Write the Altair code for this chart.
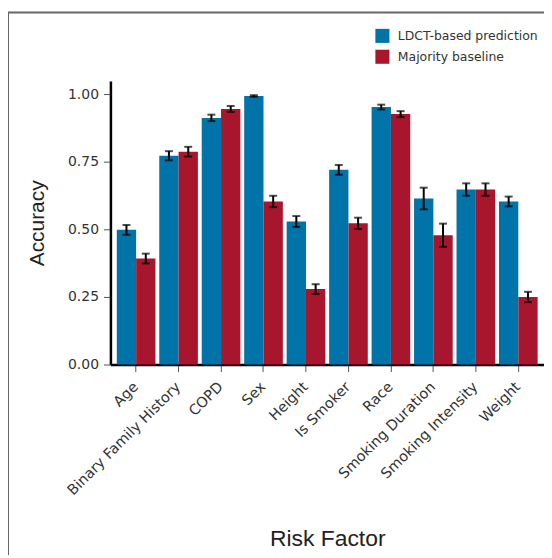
import altair as alt
import pandas as pd

factors = ["Age", "Binary Family History", "COPD", "Sex", "Height", "Is Smoker",
           "Race", "Smoking Duration", "Smoking Intensity", "Weight"]
ldct_acc = [0.498, 0.772, 0.912, 0.993, 0.529, 0.720, 0.952, 0.614, 0.647, 0.603]
ldct_err = [0.018, 0.017, 0.012, 0.003, 0.020, 0.018, 0.009, 0.040, 0.023, 0.018]
base_acc = [0.392, 0.787, 0.945, 0.603, 0.279, 0.522, 0.926, 0.478, 0.647, 0.250]
base_err = [0.018, 0.018, 0.011, 0.021, 0.018, 0.021, 0.011, 0.043, 0.023, 0.019]
models = ["LDCT-based prediction", "Majority baseline"]
colors = ["#0073A8", "#A8162E"]

rows = []
for i, f in enumerate(factors):
    rows.append({"factor": f, "model": models[0], "acc": ldct_acc[i], "err": ldct_err[i]})
    rows.append({"factor": f, "model": models[1], "acc": base_acc[i], "err": base_err[i]})
df = pd.DataFrame(rows)

font = "DejaVu Sans"
tfont = "Liberation Sans"
base = alt.Chart(df).transform_calculate(
    lo="datum.acc - datum.err", hi="datum.acc + datum.err"
)

xenc = alt.X("factor:N", sort=factors, title="Risk Factor",
             scale=alt.Scale(paddingInner=0.09, paddingOuter=0.15),
             axis=alt.Axis(labelAngle=-45, labelAlign="right", labelBaseline="middle",
                           labelFontSize=14.5, labelColor="#333333", labelFont=font,
                           labelPadding=13,
                           titleFontSize=23, titleFont=tfont,
                           titleFontWeight="normal", titleColor="#222222", titlePadding=30,
                           domainColor="black", domainWidth=2.5,
                           tickColor="#555555", tickSize=7, tickWidth=1))
xoff = alt.XOffset("model:N", sort=models, scale=alt.Scale(paddingInner=0, paddingOuter=0))

bars = base.mark_bar().encode(
    x=xenc,
    xOffset=xoff,
    y=alt.Y("acc:Q", title="Accuracy",
            scale=alt.Scale(domain=[0, 1.048], nice=False, zero=True),
            axis=alt.Axis(values=[0, 0.25, 0.5, 0.75, 1.0], format=".2f",
                          labelFontSize=14, labelColor="#333333", labelFont=font,
                          labelPadding=5,
                          titleFontSize=21, titleFont=tfont, titleFontWeight="normal",
                          titleColor="#222222", titlePadding=20,
                          domainColor="black", domainWidth=2.5,
                          tickColor="#555555", tickSize=7, tickWidth=1, grid=False)),
    color=alt.Color("model:N", sort=models,
                    scale=alt.Scale(domain=models, range=colors),
                    legend=alt.Legend(title=None, orient="none", legendX=266, legendY=-53,
                                      symbolType="square", symbolSize=200,
                                      symbolStrokeWidth=0, labelFontSize=12.5,
                                      labelFont=font, labelColor="#333333",
                                      rowPadding=6, labelOffset=8)),
)

rules = base.mark_rule(color="black", strokeWidth=2).encode(
    x=alt.X("factor:N", sort=factors), xOffset=xoff,
    y="lo:Q", y2="hi:Q")
caps_lo = base.mark_tick(color="black", thickness=2, size=8, orient="horizontal").encode(
    x=alt.X("factor:N", sort=factors), xOffset=xoff, y="lo:Q")
caps_hi = base.mark_tick(color="black", thickness=2, size=8, orient="horizontal").encode(
    x=alt.X("factor:N", sort=factors), xOffset=xoff, y="hi:Q")

frame_left = alt.Chart(pd.DataFrame({"k": [0]})).mark_rule(color="#666666", strokeWidth=2).encode(
    x=alt.value(-103), y=alt.value(-69), y2=alt.value(480))
frame_top = alt.Chart(pd.DataFrame({"k": [0]})).mark_rule(color="#666666", strokeWidth=2).encode(
    x=alt.value(-104), x2=alt.value(440), y=alt.value(-69))

chart = alt.layer(bars, rules, caps_lo, caps_hi, frame_left, frame_top).properties(
    width=436, height=285,
    autosize=alt.AutoSizeParams(type="none"),
    padding={"left": 103, "top": 72, "right": 0, "bottom": 190},
).configure_view(stroke=None).configure_scale(bandPaddingInner=0)

chart.save("out.html", embed_options={"renderer": "svg", "actions": False})
